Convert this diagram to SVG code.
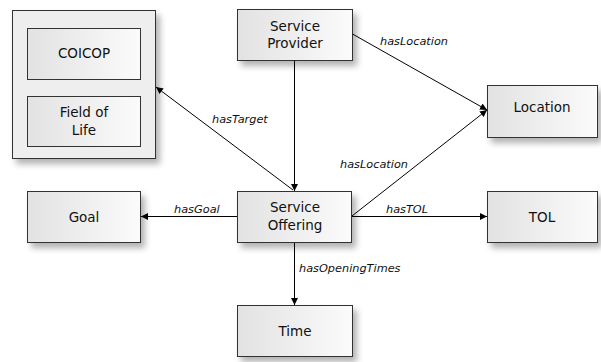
<svg xmlns="http://www.w3.org/2000/svg" width="601" height="362" viewBox="0 0 601 362">
<defs>
<linearGradient id="g" x1="0" y1="0" x2="1" y2="0">
<stop offset="0" stop-color="#e2e2e2"/>
<stop offset="1" stop-color="#fbfbfb"/>
</linearGradient>
<filter id="sh" x="-20%" y="-20%" width="150%" height="150%">
<feDropShadow dx="4" dy="5" stdDeviation="3" flood-color="#000" flood-opacity="0.3"/>
</filter>
<marker id="ah" viewBox="0 0 10 10" refX="10" refY="5" markerWidth="7" markerHeight="7" markerUnits="userSpaceOnUse" orient="auto">
<path d="M0,0 L10,5 L0,10 z" fill="#000"/>
</marker>
<style>
.box{fill:url(#g);stroke:#333;stroke-width:1;filter:url(#sh)}
.outer{fill:#eeeeee;stroke:#333;stroke-width:1;filter:url(#sh)}
.inner{fill:url(#g);stroke:#333;stroke-width:1}
.t{font-family:"DejaVu Sans","Liberation Sans",sans-serif;font-size:13.5px;fill:#111;text-anchor:middle}
.l{font-family:"DejaVu Sans","Liberation Sans",sans-serif;font-size:11.3px;font-style:italic;fill:#111}
.c{stroke:#000;stroke-width:1;fill:none;marker-end:url(#ah)}
</style>
</defs>
<g id="container">
<rect class="outer" x="12.5" y="10.5" width="143" height="148"/>
<g id="coicop">
<rect class="inner" x="27.5" y="28.5" width="113" height="51"/>
<text class="t" x="84" y="58">COICOP</text>
</g>
<g id="fieldoflife">
<rect class="inner" x="27.5" y="96.5" width="113" height="50"/>
<text class="t" x="84" y="117">Field of</text>
<text class="t" x="84" y="135">Life</text>
</g>
</g>
<g id="serviceprovider">
<rect class="box" x="237.5" y="9.5" width="115" height="51"/>
<text class="t" x="295" y="31">Service</text>
<text class="t" x="295" y="48">Provider</text>
</g>
<g id="location">
<rect class="box" x="487.5" y="85.5" width="110" height="52"/>
<text class="t" x="542" y="112">Location</text>
</g>
<g id="goal">
<rect class="box" x="27.5" y="191.5" width="113" height="51"/>
<text class="t" x="84" y="222">Goal</text>
</g>
<g id="serviceoffering">
<rect class="box" x="237.5" y="191.5" width="114" height="51"/>
<text class="t" x="295" y="212">Service</text>
<text class="t" x="295" y="230">Offering</text>
</g>
<g id="tol">
<rect class="box" x="487.5" y="191.5" width="110" height="51"/>
<text class="t" x="542" y="222">TOL</text>
</g>
<g id="time">
<rect class="box" x="237.5" y="305.5" width="115" height="51"/>
<text class="t" x="295" y="336">Time</text>
</g>
<g id="connectors">
<path class="c" d="M294.5,60.5 L294.5,191"/>
<path class="c" d="M293,190 L156,87"/>
<path class="c" d="M352.5,34 L487,110"/>
<path class="c" d="M352,216 L487,110"/>
<path class="c" d="M237,216.5 L141,216.5"/>
<path class="c" d="M352,216.5 L487,216.5"/>
<path class="c" d="M294.5,243 L294.5,305"/>
<text class="l" x="212" y="123">hasTarget</text>
<text class="l" x="380" y="45">hasLocation</text>
<text class="l" x="340" y="168">hasLocation</text>
<text class="l" x="174" y="213">hasGoal</text>
<text class="l" x="386" y="213">hasTOL</text>
<text class="l" x="299" y="272">hasOpeningTimes</text>
</g>
</svg>
